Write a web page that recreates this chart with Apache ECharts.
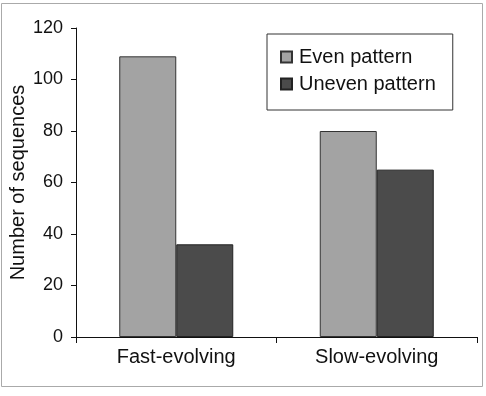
<!DOCTYPE html>
<html>
<head>
<meta charset="utf-8">
<script src="https://cdn.jsdelivr.net/npm/echarts@6/dist/echarts.min.js"></script>
<style>
  html, body { margin: 0; padding: 0; background: #fff; }
  #chart { width: 486px; height: 396px; }
</style>
</head>
<body>
<div id="chart"></div>
<script>
// categories and values
var categories = ['Fast-evolving', 'Slow-evolving'];
var evenPattern = [109, 80];
var unevenPattern = [36, 65];
var yTicks = [0, 20, 40, 60, 80, 100, 120];

var chart = echarts.init(document.getElementById('chart'));
var font = 'Liberation Sans, Arial, Helvetica, sans-serif';

var option = {
    backgroundColor: '#fff',
    animation: false,
    textStyle: { fontFamily: font },
    graphic: [{
        type: 'rect',
        shape: { x: 1.5, y: 3.5, width: 481, height: 383 },
        style: { fill: 'none', stroke: '#aaa', lineWidth: 1 },
        silent: true
    }],
    grid: { left: 76, top: 28, right: 9, bottom: 59, containLabel: false, outerBoundsMode: 'none' },
    legend: {
        orient: 'vertical',
        left: 267,
        top: 34,
        padding: [13, 17, 16, 13],
        itemGap: 7,
        itemWidth: 11,
        itemHeight: 11,
        icon: 'rect',
        borderColor: '#333',
        borderWidth: 1,
        textStyle: { fontSize: 20, color: '#111', fontFamily: font, lineHeight: 20, padding: [0, 0, 0, 2] },
        data: ['Even pattern', 'Uneven pattern']
    },
    xAxis: {
        type: 'category',
        data: categories,
        axisLine: { lineStyle: { color: '#111', width: 1 } },
        axisTick: { show: true, length: 6, alignWithLabel: false, lineStyle: { color: '#111' } },
        axisLabel: { fontSize: 20, color: '#111', margin: 10 }
    },
    yAxis: {
        type: 'value',
        min: yTicks[0],
        max: yTicks[yTicks.length - 1],
        interval: 20,
        name: 'Number of sequences',
        nameLocation: 'middle',
        nameGap: 48,
        nameMoveOverlap: false,
        nameTextStyle: { fontSize: 20, color: '#111' },
        splitLine: { show: false },
        axisLine: { show: true, lineStyle: { color: '#111', width: 1 } },
        axisTick: { show: true, length: 5, lineStyle: { color: '#111' } },
        axisLabel: { fontSize: 18, color: '#111', margin: 13 }
    },
    series: [
        {
            name: 'Even pattern',
            type: 'bar',
            data: evenPattern,
            barWidth: 57,
            barGap: '0%',
            itemStyle: { color: '#a3a3a3', borderColor: '#333', borderWidth: 1 }
        },
        {
            name: 'Uneven pattern',
            type: 'bar',
            data: unevenPattern,
            barWidth: 57,
            barGap: '0%',
            itemStyle: { color: '#4b4b4b', borderColor: '#222', borderWidth: 1 }
        }
    ]
};
chart.setOption(option);
</script>
</body>
</html>
